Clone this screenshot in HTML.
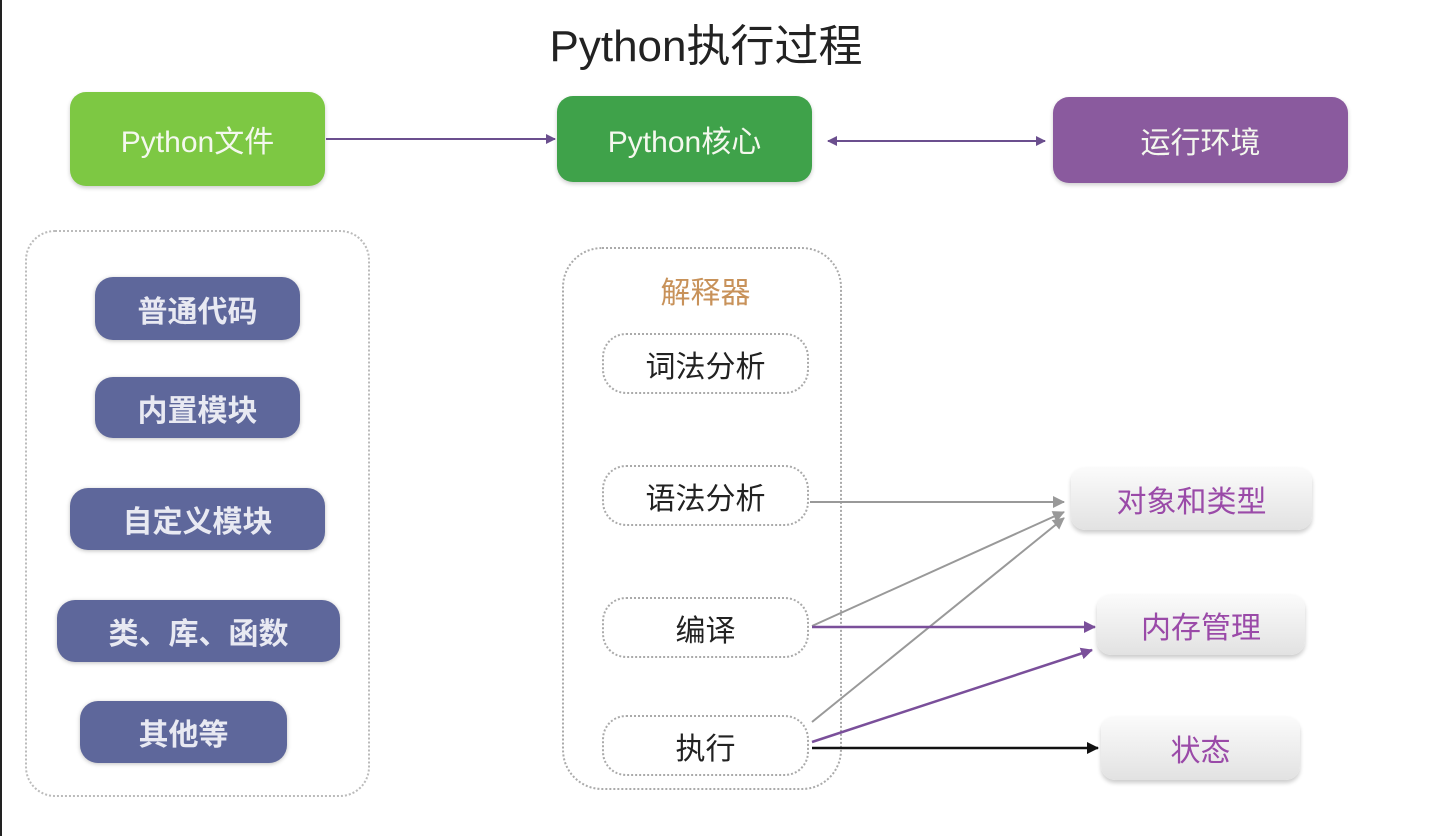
<!DOCTYPE html>
<html><head><meta charset="utf-8"><style>
body{margin:0;width:1440px;height:836px;background:#fff;position:relative;overflow:hidden;font-family:"Liberation Sans","Noto Sans CJK SC",sans-serif;}
.b{position:absolute;display:flex;align-items:center;justify-content:center;box-sizing:border-box;}
.top{border-radius:16px;color:#f4f8ee;font-size:30px;box-shadow:0 2px 4px rgba(0,0,0,.2);}
.pill{background:#5e679b;color:#e8e9f2;border-radius:18px;font-size:30px;font-weight:bold;box-shadow:0 1px 4px rgba(0,0,0,.25);}
.dot{border:2px dotted #aaa;border-radius:24px;color:#222;font-size:30px;}
.gr{border-radius:14px;background:linear-gradient(#fbfbfb,#e2e2e2);color:#9a4aa8;font-size:30px;box-shadow:0 3px 4px rgba(0,0,0,.2);}
</style></head><body>
<div style="position:absolute;left:0;top:0;width:2px;height:836px;background:#222"></div>
<div class="b" style="left:456px;top:10px;width:500px;height:64px;font-size:44px;color:#222">Python执行过程</div>
<div class="b top" style="left:70px;top:92px;width:255px;height:94px;background:#7dc843">Python文件</div>
<div class="b top" style="left:557px;top:96px;width:255px;height:86px;background:#3fa24a">Python核心</div>
<div class="b top" style="left:1053px;top:97px;width:295px;height:86px;background:#8a5a9e">运行环境</div>

<div class="b" style="left:25px;top:230px;width:345px;height:567px;border:2px dotted #bbb;border-radius:30px"></div>
<div class="b pill" style="left:95px;top:277px;width:205px;height:63px">普通代码</div>
<div class="b pill" style="left:95px;top:377px;width:205px;height:61px">内置模块</div>
<div class="b pill" style="left:70px;top:488px;width:255px;height:62px">自定义模块</div>
<div class="b pill" style="left:57px;top:600px;width:283px;height:62px">类、库、函数</div>
<div class="b pill" style="left:80px;top:701px;width:207px;height:62px">其他等</div>

<div class="b" style="left:562px;top:247px;width:280px;height:543px;border:2px dotted #aaa;border-radius:40px"></div>
<div class="b" style="left:602px;top:268px;width:207px;height:44px;font-size:30px;color:#c8925a">解释器</div>
<div class="b dot" style="left:602px;top:333px;width:207px;height:61px">词法分析</div>
<div class="b dot" style="left:602px;top:465px;width:207px;height:61px">语法分析</div>
<div class="b dot" style="left:602px;top:597px;width:207px;height:61px">编译</div>
<div class="b dot" style="left:602px;top:715px;width:207px;height:61px">执行</div>

<div class="b gr" style="left:1071px;top:467px;width:241px;height:63px">对象和类型</div>
<div class="b gr" style="left:1097px;top:594px;width:208px;height:61px">内存管理</div>
<div class="b gr" style="left:1101px;top:716px;width:199px;height:64px">状态</div>

<svg width="1440" height="836" style="position:absolute;left:0;top:0">
<defs>
<marker id="p" markerWidth="10" markerHeight="10" refX="9" refY="5" orient="auto-start-reverse" markerUnits="userSpaceOnUse"><path d="M0,0 L10,5 L0,10 Z" fill="#6b4f8e"/></marker>
<marker id="g" markerWidth="12" markerHeight="12" refX="11" refY="6" orient="auto" markerUnits="userSpaceOnUse"><path d="M0,0 L12,6 L0,12 Z" fill="#999"/></marker>
<marker id="k" markerWidth="12" markerHeight="12" refX="11" refY="6" orient="auto" markerUnits="userSpaceOnUse"><path d="M0,0 L12,6 L0,12 Z" fill="#111"/></marker>
<marker id="v" markerWidth="12" markerHeight="12" refX="11" refY="6" orient="auto" markerUnits="userSpaceOnUse"><path d="M0,0 L12,6 L0,12 Z" fill="#7a4f9a"/></marker>
</defs>
<line x1="326" y1="139" x2="555" y2="139" stroke="#6b4f8e" stroke-width="2" marker-end="url(#p)"/>
<line x1="828" y1="141" x2="1045" y2="141" stroke="#6b4f8e" stroke-width="2" marker-start="url(#p)" marker-end="url(#p)"/>
<line x1="810" y1="502" x2="1064" y2="502" stroke="#999" stroke-width="2" marker-end="url(#g)"/>
<line x1="812" y1="626" x2="1064" y2="512" stroke="#999" stroke-width="2" marker-end="url(#g)"/>
<line x1="812" y1="722" x2="1064" y2="518" stroke="#999" stroke-width="2" marker-end="url(#g)"/>
<line x1="812" y1="627" x2="1095" y2="627" stroke="#7a4f9a" stroke-width="2.5" marker-end="url(#v)"/>
<line x1="812" y1="742" x2="1092" y2="650" stroke="#7a4f9a" stroke-width="2.5" marker-end="url(#v)"/>
<line x1="812" y1="748" x2="1098" y2="748" stroke="#111" stroke-width="2.5" marker-end="url(#k)"/>
</svg>
</body></html>
